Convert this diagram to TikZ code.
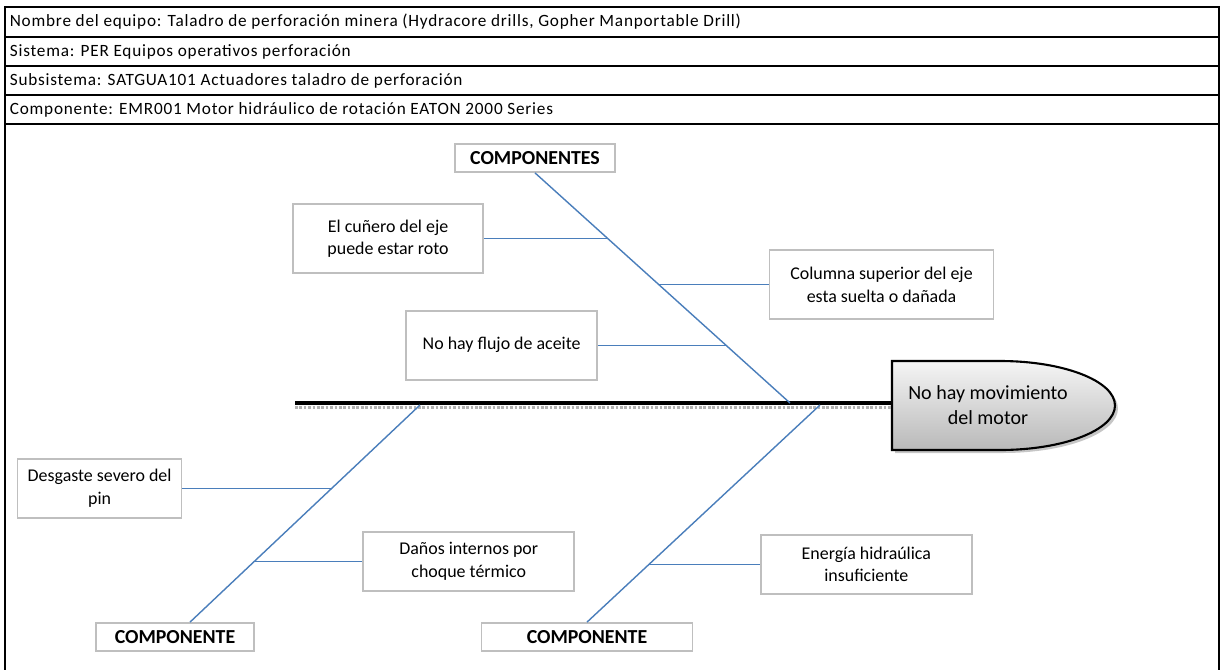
\documentclass[tikz,border=0pt]{standalone}
\usepackage{fontspec}
\setmainfont{Carlito}
\newfontfamily\filafont[LetterSpace=4.5]{Carlito}
\usetikzlibrary{calc, positioning}
\definecolor{fbblue}{HTML}{4A7EBB}
\definecolor{fbgray}{HTML}{BFBFBF}

\begin{document}
\begin{tikzpicture}[x=0.02cm, y=-0.02cm,
  every node/.style={font=\fontsize{10.2}{13}\selectfont},
  causa/.style={rectangle, draw=fbgray, line width=1pt, fill=white, align=center, minimum height=1.18cm},
  titulo/.style={causa, minimum height=0.56cm, font=\fontsize{11.3}{13}\selectfont\bfseries},
  fila/.style={anchor=west, inner sep=2pt, font=\filafont\fontsize{9.8}{12}\selectfont},
  hueso/.style={draw=fbblue, line width=0.8pt},
  marco/.style={line width=1.2pt},
]
\useasboundingbox (0,0) rectangle (1225,670);

% Encabezado
\draw[marco] (5,670) -- (5,7) -- (1219,7) -- (1219,670);
\foreach \y in {37,66,95,124}
  \draw[marco] (5,\y) -- (1219,\y);
\node[fila] (equipo) at (6,22) {Nombre del equipo: Taladro de perforación minera (Hydracore drills, Gopher Manportable Drill)};
\node[fila] (sistema) at (6,51.5) {Sistema: PER Equipos operativos perforación};
\node[fila] (subsis) at (6,80.5) {Subsistema: SATGUA101 Actuadores taladro de perforación};
\node[fila] (comp) at (6,109.5) {Componente: EMR001 Motor hidráulico de rotación EATON 2000 Series};

% Cabeza y espina
\coordinate (cola) at (295,403);
\coordinate (cabeza) at (892,403);
\fill[gray!45] (895,364) -- (1003,364) arc[start angle=-90, end angle=90, x radius=115, y radius=44.5] -- (895,453) -- cycle;
\draw[line width=1.2pt, top color=gray!8, bottom color=gray!55] (892,361) -- (1000,361) arc[start angle=-90, end angle=90, x radius=115, y radius=44.5] -- (892,450) -- cycle;
\node[align=center, font=\fontsize{11.4}{14}\selectfont] (efecto) at (988,405) {No hay movimiento\\del motor};
\draw[gray!60, densely dotted, line width=1.5pt] ([yshift=-2.5pt]cola) -- ([yshift=-2.5pt]cabeza);
\draw[line width=2.8pt] (cola) -- (cabeza);

% Hueso superior
\node[titulo, minimum width=3.2cm] (compA) at (535,158) {COMPONENTES};
\coordinate (tA) at (790,403);
\draw[hueso] (compA.south) -- (tA)
  coordinate[pos=0.286] (bA1) coordinate[pos=0.485] (bA2) coordinate[pos=0.749] (bA3);
\node[causa, minimum width=3.8cm, minimum height=1.38cm, anchor=east] (cuna) at ($(bA1)+(-124,0)$) {El cuñero del eje\\puede estar roto};
\node[causa, minimum width=4.48cm, minimum height=1.38cm, anchor=west] (columna) at ($(bA2)+(110,0)$) {Columna superior del eje\\esta suelta o dañada};
\node[causa, minimum width=3.82cm, minimum height=1.38cm, anchor=east] (flujo) at ($(bA3)+(-128,0)$) {No hay flujo de aceite};
\draw[hueso] (cuna) -- (bA1);
\draw[hueso] (columna) -- (bA2);
\draw[hueso] (flujo) -- (bA3);

% Hueso inferior izquierdo
\node[titulo, minimum width=3.16cm] (compB) at (175,637) {COMPONENTE};
\coordinate (tB) at (420,405);
\draw[hueso] ([xshift=0.3cm]compB.north) -- (tB)
  coordinate[pos=0.615] (bB1) coordinate[pos=0.28] (bB2);
\node[causa, minimum width=3.28cm, anchor=east] (pin) at ($(bB1)+(-149,0)$) {Desgaste severo del\\pin};
\node[causa, minimum width=4.22cm, anchor=west] (termico) at ($(bB2)+(108,0)$) {Daños internos por\\choque térmico};
\draw[hueso] (pin) -- (bB1);
\draw[hueso] (termico) -- (bB2);

% Hueso inferior derecho
\node[titulo, minimum width=4.22cm] (compC) at (587,637) {COMPONENTE};
\coordinate (tC) at (820,405);
\draw[hueso] (compC.north) -- (tC) coordinate[pos=0.266] (bC1);
\node[causa, minimum width=4.22cm, anchor=west] (energia) at ($(bC1)+(111,0)$) {Energía hidraúlica\\insuficiente};
\draw[hueso] (energia) -- (bC1);

\end{tikzpicture}
\end{document}
